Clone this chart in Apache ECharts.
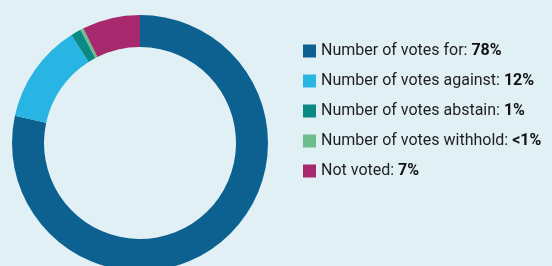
<!DOCTYPE html>
<html lang="en">
<head>
    <meta charset="UTF-8">
    <title>Votes</title>
    <script src="https://cdn.jsdelivr.net/npm/echarts@6/dist/echarts.min.js"></script>
    <style>
        html, body { margin: 0; padding: 0; overflow: hidden; background: #e0f0f5; }
        #chart { width: 552px; height: 266px; }
    </style>
</head>
<body>
    <div id="chart"></div>
    <script>
        // data
        var categories = ['Number of votes for', 'Number of votes against', 'Number of votes abstain', 'Number of votes withhold', 'Not voted'];
        var shares = [78.4, 12.6, 1.3, 0.4, 7.3];
        var shareLabels = ['78%', '12%', '1%', '<1%', '7%'];
        var colors = ['#0c6190', '#28b5e4', '#0b8a85', '#6dbd8c', '#a8286e'];

        var font = 'Roboto, sans-serif';
        var myChart = echarts.init(document.getElementById('chart'));
        var data = categories.map(function (c, i) {
            return { name: c, value: shares[i], itemStyle: { color: colors[i] } };
        });

        var option = {
            backgroundColor: '#e0f0f5',
            animation: false,
            legend: {
                orient: 'vertical',
                left: 298,
                top: 38,
                icon: 'rect',
                itemWidth: 13,
                itemHeight: 13,
                itemGap: 14,
                selectedMode: false,
                data: categories,
                formatter: function (name) {
                    var i = categories.indexOf(name);
                    return '{n|' + name + ': }{b|' + shareLabels[i] + '}';
                },
                textStyle: {
                    padding: [0, 0, 0, 0],
                    rich: {
                        n: { fontFamily: font, fontSize: 16, lineHeight: 17, color: '#1e1e1e' },
                        b: { fontFamily: font, fontSize: 16, lineHeight: 17, fontWeight: 'bold', color: '#111' }
                    }
                }
            },
            series: [{
                type: 'pie',
                center: [140, 143],
                radius: [96, 128],
                startAngle: 90,
                clockwise: true,
                silent: true,
                label: { show: false },
                labelLine: { show: false },
                data: data
            }]
        };
        myChart.setOption(option);
    </script>
</body>
</html>
